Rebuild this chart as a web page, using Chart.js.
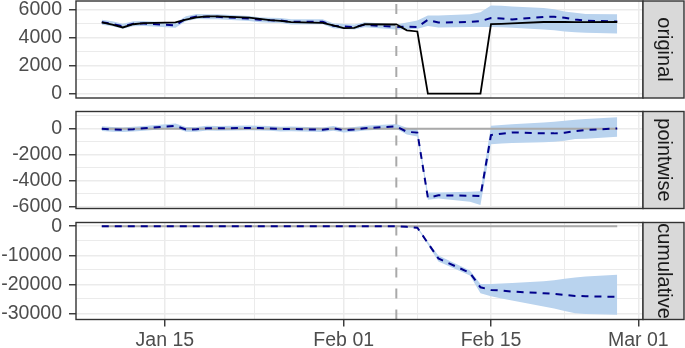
<!DOCTYPE html>
<html>
<head>
<meta charset="utf-8">
<script src="https://cdn.jsdelivr.net/npm/chart.js@4.4.1/dist/chart.umd.min.js"></script>
<style>
  body { margin: 0; background: #fff; }
  #wrap { position: relative; width: 685px; height: 348px; overflow: hidden; }
  #wrap canvas { position: absolute; left: 0; }
</style>
</head>
<body>
<div id="wrap">
  <canvas id="pOriginal" width="685" height="105" style="top:0px"></canvas>
  <canvas id="pPointwise" width="685" height="110" style="top:105px"></canvas>
  <canvas id="pCumulative" width="685" height="133" style="top:215px"></canvas>
</div>
<script>
// --- data (weekdays, 2017) ---
const dates = [
  '2017-01-09','2017-01-10','2017-01-11','2017-01-12','2017-01-13',
  '2017-01-16','2017-01-17','2017-01-18','2017-01-19','2017-01-20',
  '2017-01-23','2017-01-24','2017-01-25','2017-01-26','2017-01-27',
  '2017-01-30','2017-01-31','2017-02-01','2017-02-02','2017-02-03',
  '2017-02-06','2017-02-07','2017-02-08','2017-02-09','2017-02-10',
  '2017-02-13','2017-02-14','2017-02-15','2017-02-16','2017-02-17',
  '2017-02-20','2017-02-21','2017-02-22','2017-02-23','2017-02-24',
  '2017-02-27'
];
const interventionDate = '2017-02-06';

const actual = [
  5120, 4950, 4750, 4980, 5060,
  5120, 5320, 5480, 5550, 5540,
  5450, 5360, 5280, 5220, 5130,
  5080, 4900, 4700, 4720, 4980,
  4960, 4540, 4460, 0, 0,
  0, 0, 4990, 5010, 5040,
  5140, 5150, 5140, 5130, 5130,
  5140
];
const predicted = [
  5120, 5010, 4830, 5020, 5030,
  4900, 5380, 5530, 5510, 5510,
  5390, 5310, 5260, 5250, 5150,
  5160, 4870, 4820, 4780, 4940,
  4780, 4800, 4780, 5300, 5100,
  5140, 5210, 5420, 5390, 5320,
  5500, 5520, 5450, 5320, 5230,
  5180
];
const predLower = [
  4940, 4830, 4650, 4840, 4850,
  4720, 5200, 5350, 5330, 5330,
  5210, 5130, 5080, 5070, 4970,
  4980, 4690, 4640, 4600, 4760,
  4600, 4600, 4650, 4850, 4750,
  4780, 4790, 4790, 4760, 4730,
  4600, 4550, 4450, 4400, 4360,
  4310
];
const predUpper = [
  5300, 5190, 5010, 5200, 5210,
  5080, 5560, 5710, 5690, 5690,
  5570, 5490, 5440, 5430, 5330,
  5340, 5050, 5000, 4960, 5120,
  4960, 5100, 5250, 5600, 5600,
  5700, 5850, 6330, 6300, 6250,
  6150, 6050, 5900, 5800, 5720,
  5700
];

const pointwise = [
  0, -60, -80, -40, 30,
  220, -60, -50, 40, 30,
  60, 50, 20, -30, -20,
  -80, 30, -120, -60, 40,
  180, -240, -300, -5300, -5120,
  -5150, -5180, -490, -385, -285,
  -360, -360, -310, -180, -100,
  20
];
const pointwiseLower = [
  -180, -240, -260, -220, -150,
  40, -240, -230, -140, -150,
  -120, -130, -160, -210, -200,
  -260, -150, -300, -240, -140,
  0, -450, -600, -5460, -5360,
  -5610, -5870, -1200, -1130, -1100,
  -1050, -1000, -925, -800, -770,
  -620
];
const pointwiseUpper = [
  180, 120, 100, 140, 210,
  400, 120, 130, 220, 210,
  240, 230, 200, 150, 160,
  100, 210, 60, 120, 220,
  360, 80, 0, -4900, -4900,
  -4850, -4800, 230, 280, 350,
  480, 540, 615, 690, 740,
  870
];

const cumulative = [
  0, 0, 0, 0, 0,
  0, 0, 0, 0, 0,
  0, 0, 0, 0, 0,
  0, 0, 0, 0, 0,
  0, -240, -530, -5830, -11100,
  -16050, -21000, -21890, -22100, -22450,
  -23020, -23250, -23600, -23950, -24070,
  -24290
];
const cumulativeLower = [
  0, 0, 0, 0, 0,
  0, 0, 0, 0, 0,
  0, 0, 0, 0, 0,
  0, 0, 0, 0, 0,
  0, -400, -800, -6300, -12130,
  -16950, -23000, -24100, -24800, -25500,
  -27600, -28300, -29100, -29900, -30200,
  -30450
];
const cumulativeUpper = [
  0, 0, 0, 0, 0,
  0, 0, 0, 0, 0,
  0, 0, 0, 0, 0,
  0, 0, 0, 0, 0,
  0, -80, -250, -5400, -10080,
  -15230, -19900, -19820, -19700, -19500,
  -18900, -18600, -18100, -17600, -17300,
  -16730
];

const xTickDates = ['2017-01-15', '2017-02-01', '2017-02-15', '2017-03-01'];
const xTickLabels = ['Jan 15', 'Feb 01', 'Feb 15', 'Mar 01'];
const yTicksOriginal = [0, 2000, 4000, 6000];
const yTicksPointwise = [-6000, -4000, -2000, 0];
const yTicksCumulative = [-30000, -20000, -10000, 0];
const panelNames = ['original', 'pointwise', 'cumulative'];

// --- helpers ---
function dayOf(s) {
    const [y, m, d] = s.split('-').map(Number);
    return (Date.UTC(y, m - 1, d) - Date.UTC(2017, 0, 0)) / 864e5;
}

const xs = dates.map(dayOf);
const span = xs[xs.length - 1] - xs[0];
const xMin = xs[0] - span * 0.05;
const xMax = xs[xs.length - 1] + span * 0.05;
const xMajor = xTickDates.map(dayOf);
const xMinor = [];
for (let i = 0; i < xMajor.length - 1; i++) xMinor.push((xMajor[i] + xMajor[i + 1]) / 2);

function minorsFor(majors, min, max) {
    const step = majors[1] - majors[0];
    const out = [];
    for (let v = majors[0] - step / 2; v <= majors[majors.length - 1] + step / 2; v += step) {
        if (v >= min && v <= max) out.push(v);
    }
    return out;
}

const FONT = "'Liberation Sans', Arial, sans-serif";
Chart.defaults.font.family = FONT;

const panelDecor = {
    id: 'panelDecor',
    afterDatasetsDraw(chart, args, opts) {
        const { ctx, chartArea, scales } = chart;
        const x = scales.x.getPixelForValue(dayOf(interventionDate));
        ctx.save();
        ctx.strokeStyle = '#A9A9A9';
        ctx.lineWidth = 2;
        ctx.setLineDash([10, 11]);
        ctx.beginPath();
        ctx.moveTo(x, chartArea.top + 3);
        ctx.lineTo(x, chartArea.bottom);
        ctx.stroke();
        ctx.restore();
    },
    afterDraw(chart, args, opts) {
        const { ctx, chartArea } = chart;
        ctx.save();
        ctx.strokeStyle = '#333333';
        ctx.lineWidth = 1.4;
        ctx.strokeRect(chartArea.left, chartArea.top, chartArea.right - chartArea.left, chartArea.bottom - chartArea.top);
        // strip on the right
        const sx = chartArea.right, sw = 41;
        ctx.fillStyle = '#D9D9D9';
        ctx.fillRect(sx, chartArea.top, sw, chartArea.bottom - chartArea.top);
        ctx.strokeRect(sx, chartArea.top, sw, chartArea.bottom - chartArea.top);
        ctx.translate(sx + sw / 2, (chartArea.top + chartArea.bottom) / 2);
        ctx.rotate(Math.PI / 2);
        ctx.fillStyle = '#1A1A1A';
        ctx.font = '20px ' + FONT;
        ctx.textAlign = 'center';
        ctx.textBaseline = 'middle';
        ctx.fillText(opts.label, 0, 0);
        ctx.restore();
    }
};

function makePanel(id, cfg) {
    const pts = arr => arr.map((v, i) => ({ x: xs[i], y: v }));
    const datasets = [];
    if (cfg.actual) {
        datasets.push({ data: pts(cfg.actual), borderColor: '#000000', borderWidth: 1.8, fill: false });
    }
    datasets.push({ data: pts(cfg.mean), borderColor: '#00008B', borderWidth: 2, borderDash: [7, 6], fill: false });
    if (cfg.zeroLine) {
        datasets.push({ data: [{ x: xs[0], y: 0 }, { x: xs[xs.length - 1], y: 0 }], borderColor: '#A9A9A9', borderWidth: 2, fill: false });
    }
    datasets.push({ data: pts(cfg.upper), borderWidth: 0, borderColor: 'rgba(0,0,0,0)', backgroundColor: '#B9D3EE', fill: '+1' });
    datasets.push({ data: pts(cfg.lower), borderWidth: 0, borderColor: 'rgba(0,0,0,0)', fill: false });

    const yMinor = minorsFor(cfg.yTicks, cfg.yMin, cfg.yMax);
    const isMajorY = v => cfg.yTicks.includes(v);
    const isMajorX = v => xMajor.includes(v);

    return new Chart(document.getElementById(id), {
        type: 'line',
        data: { datasets },
        options: {
            responsive: false,
            animation: false,
            devicePixelRatio: 1,
            layout: { padding: { top: cfg.padTop, bottom: cfg.padBottom, left: 0, right: 42 } },
            elements: { point: { radius: 0 }, line: { tension: 0 } },
            plugins: {
                legend: { display: false },
                tooltip: { enabled: false },
                panelDecor: { label: cfg.label }
            },
            scales: {
                x: {
                    type: 'linear',
                    min: xMin,
                    max: xMax,
                    afterBuildTicks: s => { s.ticks = xMajor.concat(xMinor).map(v => ({ value: v })); },
                    afterFit: s => { s.height = cfg.xHeight; s.paddingLeft = 0; s.paddingRight = 0; },
                    border: { display: false },
                    grid: {
                        color: '#EBEBEB',
                        lineWidth: c => (c.tick && isMajorX(c.tick.value)) ? 1.5 : 1,
                        drawTicks: cfg.showX,
                        tickLength: 7,
                        tickWidth: 1.4,
                        tickColor: c => (c.tick && isMajorX(c.tick.value)) ? '#333333' : 'rgba(0,0,0,0)'
                    },
                    ticks: {
                        display: cfg.showX,
                        autoSkip: false,
                        maxRotation: 0,
                        minRotation: 0,
                        padding: 2,
                        color: '#4D4D4D',
                        font: { size: 19.5 },
                        callback: v => {
                            const i = xMajor.indexOf(v);
                            return i >= 0 ? xTickLabels[i] : '';
                        }
                    }
                },
                y: {
                    min: cfg.yMin,
                    max: cfg.yMax,
                    afterBuildTicks: s => { s.ticks = cfg.yTicks.concat(yMinor).map(v => ({ value: v })); },
                    afterFit: s => { s.width = 76; s.paddingTop = 0; s.paddingBottom = 0; },
                    border: { display: false },
                    grid: {
                        color: '#EBEBEB',
                        lineWidth: c => (c.tick && isMajorY(c.tick.value)) ? 1.5 : 1,
                        tickLength: 7,
                        tickWidth: 1.4,
                        tickColor: c => (c.tick && isMajorY(c.tick.value)) ? '#333333' : 'rgba(0,0,0,0)'
                    },
                    ticks: {
                        autoSkip: false,
                        padding: 7,
                        color: '#4D4D4D',
                        font: { size: 19.5 },
                        callback: v => isMajorY(v) ? String(v) : ''
                    }
                }
            }
        },
        plugins: [panelDecor]
    });
}

makePanel('pOriginal', {
    label: panelNames[0], actual: actual, mean: predicted, lower: predLower, upper: predUpper,
    yTicks: yTicksOriginal, yMin: -320, yMax: 6650,
    padTop: 1, padBottom: 7, xHeight: 0, showX: false
});
makePanel('pPointwise', {
    label: panelNames[1], mean: pointwise, lower: pointwiseLower, upper: pointwiseUpper, zeroLine: true,
    yTicks: yTicksPointwise, yMin: -6130, yMax: 1320,
    padTop: 6.5, padBottom: 6.5, xHeight: 0, showX: false
});
makePanel('pCumulative', {
    label: panelNames[2], mean: cumulative, lower: cumulativeLower, upper: cumulativeUpper, zeroLine: true,
    yTicks: yTicksCumulative, yMin: -32050, yMax: 1250,
    padTop: 7.5, padBottom: 0, xHeight: 28.5, showX: true
});
</script>
</body>
</html>
